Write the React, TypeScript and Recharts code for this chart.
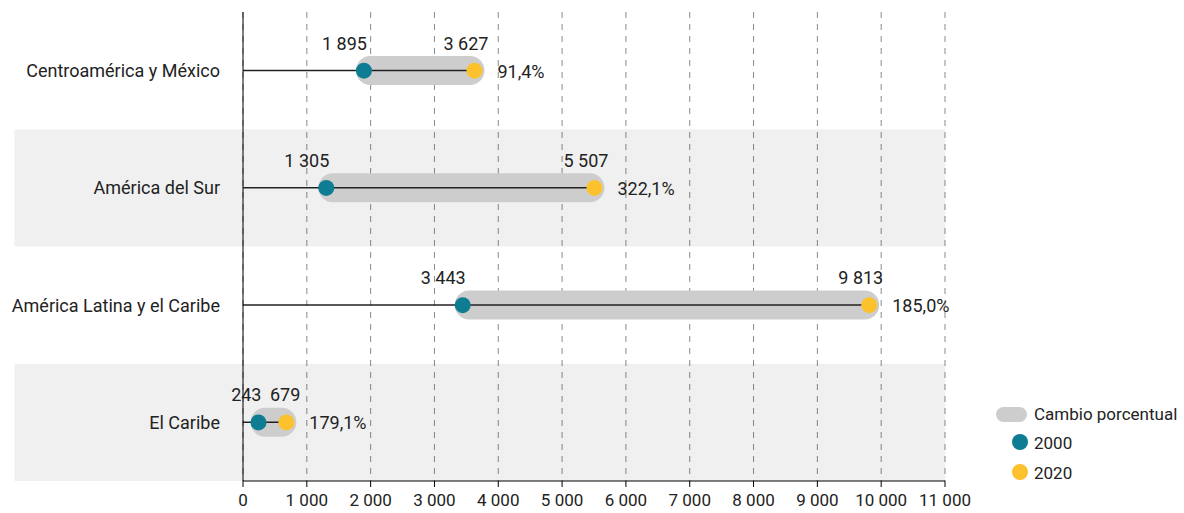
import React from 'react';
import {
  ComposedChart, Bar, Line, XAxis, YAxis, CartesianGrid, ReferenceArea, LabelList, Legend,
} from 'recharts';

const categories = ['Centroamérica y México', 'América del Sur', 'América Latina y el Caribe', 'El Caribe'];
const values2000 = [1895, 1305, 3443, 243];
const values2020 = [3627, 5507, 9813, 679];
const pctChange = ['91,4%', '322,1%', '185,0%', '179,1%'];
const xTicks = [0, 1000, 2000, 3000, 4000, 5000, 6000, 7000, 8000, 9000, 10000, 11000];
const shadedRows = ['América del Sur', 'El Caribe'];

const data = categories.map((name, i) => ({
  name,
  v2000: values2000[i],
  v2020: values2020[i],
  range: [values2000[i], values2020[i]],
  pct: pctChange[i],
}));

const FONT = 'Roboto, "Noto Sans", sans-serif';
const TEAL = '#0e7c93';
const YELLOW = '#fbc22e';
const PILL = '#cdcdcd';

const fmt = (n: number) => String(n).replace(/\B(?=(\d{3})+(?!\d))/g, ' ');

const PillShape = (props: any) => {
  const { x, y, width, height, background } = props;
  const cy = y + height / 2;
  const x0 = background && typeof background.x === 'number' ? background.x : x;
  return (
    <g>
      <rect x={x - 8} y={y} width={width + 18} height={height} rx={height / 2} ry={height / 2} fill={PILL} />
      <line x1={x0} x2={x + width} y1={cy} y2={cy} stroke="#222" strokeWidth={1.3} />
    </g>
  );
};

const Label2000 = (props: any) => {
  const { x, y, value } = props;
  return (
    <text x={x + 3} y={y - 21} textAnchor="end" fontFamily={FONT} fontSize={18} fill="#222">
      {fmt(value)}
    </text>
  );
};

const Label2020 = (props: any) => {
  const { x, y, value } = props;
  return (
    <text x={x + 14} y={y - 21} textAnchor="end" fontFamily={FONT} fontSize={18} fill="#222">
      {fmt(value)}
    </text>
  );
};

const LabelPct = (props: any) => {
  const { x, y, index } = props;
  return (
    <text x={x + 23} y={y + 7} textAnchor="start" fontFamily={FONT} fontSize={18} fill="#222">
      {pctChange[index]}
    </text>
  );
};

const LegendContent = () => (
  <svg width={194} height={90} style={{ display: 'block' }}>
    <rect x={6} y={9} width={31} height={15} rx={7.5} fill={PILL} />
    <text x={44} y={16} dominantBaseline="central" fontFamily={FONT} fontSize={17} fill="#222">Cambio porcentual</text>
    <circle cx={30} cy={44} r={8} fill={TEAL} />
    <text x={44} y={45} dominantBaseline="central" fontFamily={FONT} fontSize={17} fill="#222">2000</text>
    <circle cx={30} cy={74} r={8} fill={YELLOW} />
    <text x={44} y={75} dominantBaseline="central" fontFamily={FONT} fontSize={17} fill="#222">2020</text>
  </svg>
);

export default function App() {
  return (
    <div style={{ position: 'absolute', left: 0, top: 0, width: 1184, height: 513, background: '#fff' }}>
      <ComposedChart
        width={1184}
        height={513}
        data={data}
        layout="vertical"
        margin={{ top: 12, right: 239, bottom: 0, left: 0 }}
        barSize={29}
      >
        {shadedRows.map((r) => (
          <ReferenceArea
            key={r}
            y1={r}
            y2={r}
            x1={-3580}
            x2={11000}
            ifOverflow="visible"
            fill="#000"
            fillOpacity={0.058}
            stroke="none"
          />
        ))}
        <CartesianGrid horizontal={false} vertical strokeDasharray="6 6" stroke="#8a8a8a" />
        <XAxis
          type="number"
          domain={[0, 11000]}
          ticks={xTicks}
          tickFormatter={fmt}
          height={32}
          axisLine={{ stroke: '#000' }}
          tickLine={{ stroke: '#000' }}
          tickSize={6}
          tickMargin={7}
          tick={{ fill: '#222', fontSize: 17, fontFamily: FONT }}
          interval={0}
        />
        <YAxis
          type="category"
          dataKey="name"
          width={243}
          axisLine={{ stroke: '#000' }}
          tickLine={false}
          tickSize={6}
          tickMargin={17}
          tick={{ fill: '#222', fontSize: 18, fontFamily: FONT }}
        />
        <Bar dataKey="range" name="Cambio porcentual" fill={PILL} shape={PillShape} isAnimationActive={false} />
        <Line
          dataKey="v2000"
          name="2000"
          stroke="none"
          dot={{ r: 8, fill: TEAL, stroke: 'none' }}
          activeDot={false}
          isAnimationActive={false}
        >
          <LabelList dataKey="v2000" content={Label2000} />
        </Line>
        <Line
          dataKey="v2020"
          name="2020"
          stroke="none"
          dot={{ r: 8, fill: YELLOW, stroke: 'none' }}
          activeDot={false}
          isAnimationActive={false}
        >
          <LabelList dataKey="v2020" content={Label2020} />
          <LabelList dataKey="pct" content={LabelPct} />
        </Line>
        <Legend
          layout="horizontal"
          align="center"
          verticalAlign="middle"
          content={LegendContent}
          wrapperStyle={{ left: 990, top: 398, width: 194, height: 90, right: 'auto', bottom: 'auto' }}
        />
      </ComposedChart>
    </div>
  );
}
